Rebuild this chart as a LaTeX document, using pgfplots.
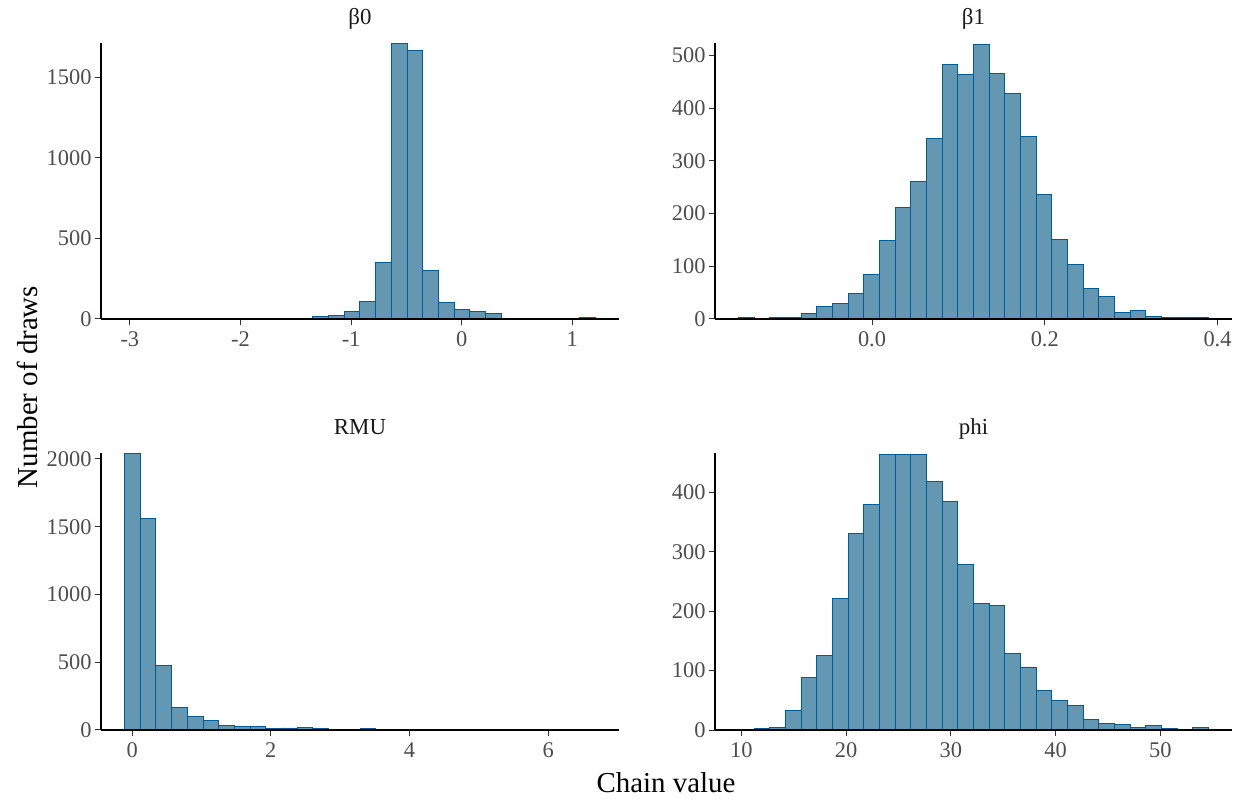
\documentclass[border=0pt]{standalone}
\usepackage{fontspec}
\setmainfont{Liberation Serif}
\usepackage{pgfplots}
\pgfplotsset{compat=1.18}
\definecolor{barfill}{HTML}{6497B1}
\definecolor{baredge}{HTML}{005B96}
\definecolor{ticklab}{HTML}{4D4D4D}
\definecolor{striptxt}{HTML}{1A1A1A}
\definecolor{tickcol}{HTML}{333333}
\pgfplotsset{
  panel/.style={
    scale only axis,
    anchor=south west,
    axis lines*=left,
    axis line style={black, line width=1.1bp},
    tick align=outside,
    major tick length=6bp,
    tick style={tickcol, line width=1bp},
    tick label style={font=\fontsize{22.5}{22.5}\selectfont, text=ticklab},
    xticklabel style={yshift=-3bp},
    /pgf/number format/assume math mode=true,
    /pgf/number format/1000 sep={},
    scaled ticks=false,
    ymin=0,
    axis on top,
    clip=false,
    title style={at={(0.5,1)}, anchor=base, yshift=13bp, font=\fontsize{23}{23}\selectfont, text=striptxt},
  },
  hist/.style={ybar interval, fill=barfill, draw=baredge, line width=0.9bp},
}
\begin{document}
\begin{tikzpicture}
\useasboundingbox (0,0) rectangle (1244bp,800bp);
% beta0
\begin{axis}[panel, at={(101bp,481bp)}, width=518bp, height=276bp,
  title={β0}, xmin=-3.2609, xmax=1.4219, ymax=1714,
  xtick={-3,-2,-1,0,1}, ytick={0,500,1000,1500}]
\addplot[hist] coordinates {
(-3.048,5) (-2.906,3) (-2.764,2) (-2.622,3) (-2.480,2) (-2.339,2) (-2.197,3) (-2.055,2)
(-1.913,3) (-1.771,3) (-1.629,4) (-1.487,6) (-1.345,18) (-1.203,24) (-1.061,48) (-0.920,108)
(-0.778,350) (-0.636,1711) (-0.494,1665) (-0.352,299) (-0.210,105) (-0.068,60) (0.074,48)
(0.216,35) (0.358,5) (0.500,4) (0.641,4) (0.783,3) (0.925,0) (1.067,7) (1.209,7)};
\end{axis}
% beta1
\begin{axis}[panel, at={(715bp,481bp)}, width=517bp, height=276bp,
  title={β1}, xmin=-0.1818, xmax=0.4168, ymax=524,
  xtick={0,0.2,0.4}, xticklabels={0.0,0.2,0.4}, ytick={0,100,200,300,400,500}]
\addplot[hist] coordinates {
(-0.1546,3) (-0.1365,0) (-0.1183,3) (-0.1002,3) (-0.0820,11) (-0.0639,23) (-0.0458,30)
(-0.0276,49) (-0.0095,85) (0.0087,149) (0.0268,211) (0.0449,261) (0.0631,342) (0.0812,483)
(0.0994,465) (0.1175,521) (0.1356,467) (0.1538,428) (0.1719,347) (0.1901,236) (0.2082,151)
(0.2263,103) (0.2445,58) (0.2626,43) (0.2808,13) (0.2989,16) (0.3170,4) (0.3352,3)
(0.3533,3) (0.3715,2) (0.3896,2)};
\end{axis}
% RMU
\begin{axis}[panel, at={(101bp,70bp)}, width=518bp, height=277bp,
  title={RMU}, xmin=-0.4496, xmax=7.0216, ymax=2044,
  xtick={0,2,4,6}, ytick={0,500,1000,1500,2000}]
\addplot[hist] coordinates {
(-0.110,2037) (0.1164,1563) (0.3428,477) (0.5692,165) (0.7956,98) (1.0220,70) (1.2484,34)
(1.4748,24) (1.7012,24) (1.9276,10) (2.1540,15) (2.3804,16) (2.6068,8) (2.8332,6)
(3.0596,4) (3.2860,8) (3.5124,4) (3.7388,3) (3.9652,3) (4.1916,2) (4.4180,2) (4.6444,2)
(4.8708,2) (5.0972,2) (5.3236,2) (5.5500,2) (5.7764,2) (6.0028,2) (6.2292,2) (6.4556,3)
(6.6820,3)};
\end{axis}
% phi
\begin{axis}[panel, at={(715bp,70bp)}, width=517bp, height=277bp,
  title={phi}, xmin=7.476, xmax=56.844, ymax=466,
  xtick={10,20,30,40,50}, ytick={0,100,200,300,400}]
\addplot[hist] coordinates {
(9.720,1) (11.216,3) (12.712,4) (14.208,33) (15.704,89) (17.200,125) (18.696,221)
(20.192,330) (21.688,380) (23.184,463) (24.680,463) (26.176,463) (27.672,418) (29.168,384)
(30.664,279) (32.160,213) (33.656,209) (35.152,128) (36.648,106) (38.144,67) (39.640,49)
(41.136,42) (42.632,17) (44.128,11) (45.624,10) (47.120,5) (48.616,7) (50.112,3)
(51.608,1) (53.104,4) (54.600,4)};
\end{axis}
\node[rotate=90, font=\fontsize{29}{29}\selectfont] at (27bp,413bp) {Number of draws};
\node[font=\fontsize{29}{29}\selectfont] at (666bp,17bp) {Chain value};
\end{tikzpicture}
\end{document}
